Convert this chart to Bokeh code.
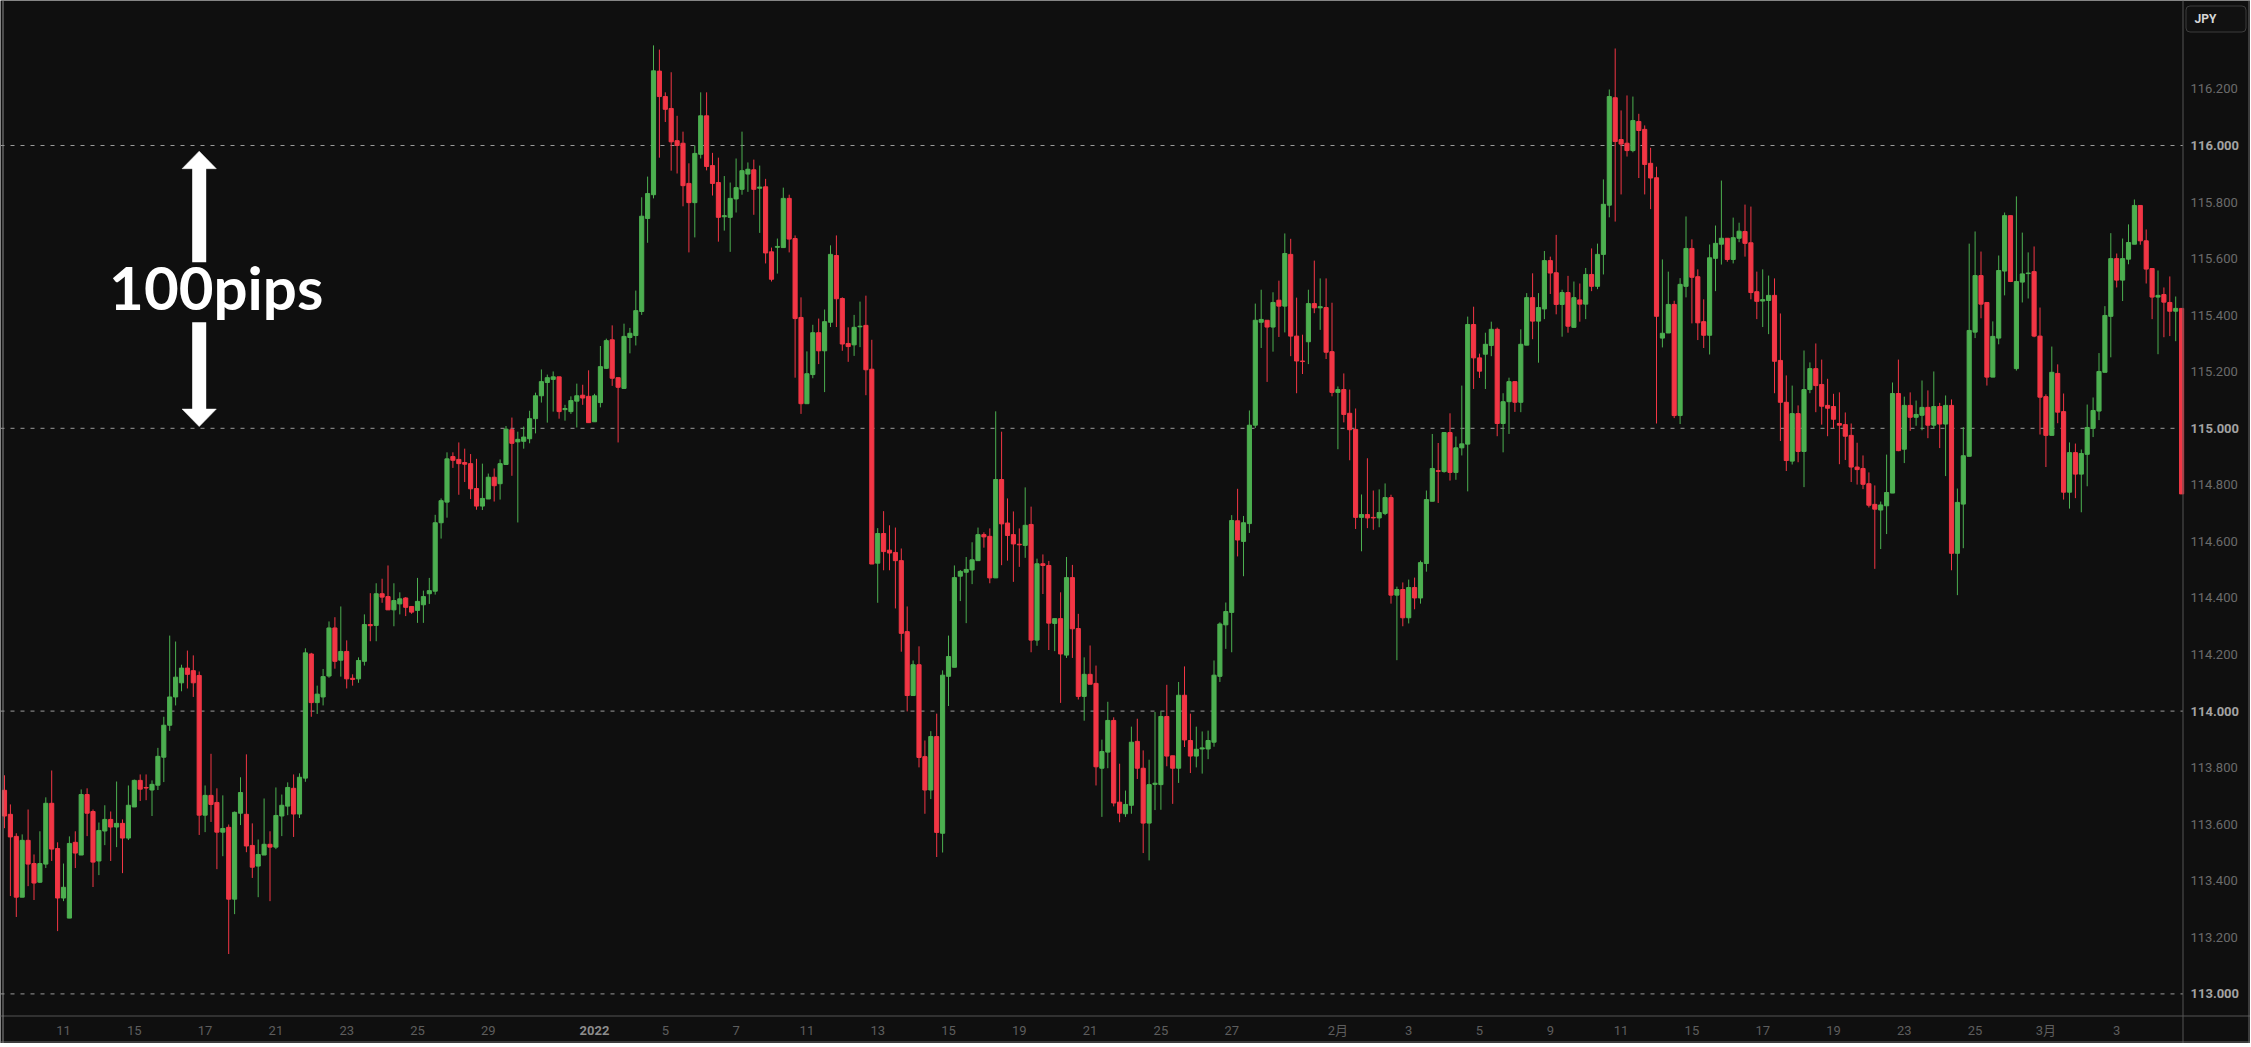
from bokeh.plotting import figure
from bokeh.models import Range1d, Label, Span, ColumnDataSource
from bokeh.core.properties import value
from bokeh.embed import file_html
from bokeh.resources import INLINE

# ---------------- data (USD/JPY, 4H candles) ----------------
opens = [
    113.720, 113.635, 113.557, 113.342, 113.543, 113.461, 113.395, 113.459, 113.674, 113.514,
    113.339, 113.268, 113.536, 113.491, 113.705, 113.645, 113.470, 113.576, 113.617, 113.590,
    113.603, 113.551, 113.661, 113.755, 113.730, 113.721, 113.738, 113.837, 113.950, 114.050,
    114.100, 114.152, 114.143, 114.126, 113.632, 113.702, 113.677, 113.572, 113.589, 113.335,
    113.639, 113.635, 113.525, 113.452, 113.491, 113.529, 113.519, 113.629, 113.664, 113.727,
    113.636, 113.763, 114.202, 114.030, 114.050, 114.124, 114.294, 114.180, 114.211, 114.116,
    114.114, 114.176, 114.306, 114.303, 114.415, 114.405, 114.358, 114.379, 114.400, 114.370,
    114.356, 114.376, 114.415, 114.424, 114.666, 114.739, 114.900, 114.890, 114.879, 114.875,
    114.787, 114.725, 114.750, 114.827, 114.804, 114.872, 114.995, 114.952, 114.954, 114.963,
    115.034, 115.115, 115.162, 115.173, 115.182, 115.066, 115.059, 115.096, 115.117, 115.113,
    115.023, 115.091, 115.212, 115.313, 115.179, 115.141, 115.321, 115.328, 115.413, 115.742,
    115.826, 116.263, 116.173, 116.131, 116.017, 116.008, 115.866, 115.798, 115.969, 116.105,
    115.929, 115.869, 115.748, 115.746, 115.811, 115.845, 115.899, 115.914, 115.849, 115.854,
    115.624, 115.640, 115.639, 115.813, 115.671, 115.392, 115.087, 115.190, 115.338, 115.274,
    115.375, 115.611, 115.459, 115.300, 115.295, 115.359, 115.364, 115.209, 114.523, 114.628,
    114.569, 114.561, 114.532, 114.281, 114.055, 114.164, 113.839, 113.721, 113.910, 113.568,
    114.123, 114.155, 114.477, 114.491, 114.499, 114.532, 114.624, 114.618, 114.471, 114.819,
    114.665, 114.624, 114.590, 114.586, 114.660, 114.251, 114.521, 114.515, 114.310, 114.327,
    114.198, 114.472, 114.292, 114.052, 114.130, 114.098, 113.798, 113.855, 113.967, 113.678,
    113.637, 113.667, 113.893, 113.798, 113.604, 113.741, 113.740, 113.981, 113.842, 113.798,
    114.056, 113.896, 113.841, 113.866, 113.866, 113.890, 114.123, 114.305, 114.349, 114.673,
    114.600, 114.663, 115.011, 115.375, 115.382, 115.358, 115.453, 115.432, 115.615, 115.326,
    115.238, 115.306, 115.441, 115.426, 115.427, 115.271, 115.127, 115.137, 115.053, 114.996,
    114.685, 114.695, 114.685, 114.683, 114.699, 114.755, 114.410, 114.430, 114.330, 114.437,
    114.400, 114.522, 114.742, 114.850, 114.847, 114.985, 114.844, 114.931, 114.944, 115.367,
    115.249, 115.262, 115.293, 115.350, 115.017, 115.094, 115.165, 115.092, 115.294, 115.462,
    115.379, 115.422, 115.593, 115.550, 115.438, 115.480, 115.357, 115.454, 115.439, 115.544,
    115.502, 115.615, 115.789, 116.169, 116.021, 116.008, 115.982, 116.085, 116.057, 115.937,
    115.886, 115.319, 115.337, 115.438, 115.045, 115.502, 115.636, 115.536, 115.377, 115.329,
    115.601, 115.651, 115.672, 115.597, 115.672, 115.696, 115.656, 115.483, 115.450, 115.452,
    115.470, 115.240, 115.092, 114.884, 115.052, 114.918, 115.137, 115.211, 115.155, 115.081,
    115.077, 115.017, 115.013, 114.975, 114.863, 114.858, 114.804, 114.731, 114.711, 114.726,
    114.771, 115.123, 114.926, 115.081, 115.039, 115.046, 115.074, 115.011, 115.077, 115.015,
    115.081, 114.558, 114.732, 114.901, 115.340, 115.540, 115.445, 115.181, 115.319, 115.556,
    115.752, 115.211, 115.517, 115.547, 115.554, 115.326, 115.112, 114.975, 115.194, 115.059,
    114.774, 114.914, 114.838, 114.908, 115.000, 115.061, 115.198, 115.396, 115.600, 115.524,
    115.598, 115.651, 115.788, 115.663, 115.565, 115.464, 115.473, 115.445, 115.414, 115.424,
]
highs = [
    113.773, 113.670, 113.568, 113.564, 113.652, 113.493, 113.575, 113.695, 113.790, 113.536,
    113.461, 113.557, 113.575, 113.723, 113.727, 113.652, 113.606, 113.667, 113.645, 113.751,
    113.617, 113.737, 113.758, 113.776, 113.776, 113.755, 113.870, 113.980, 114.267, 114.246,
    114.164, 114.214, 114.197, 114.140, 113.737, 113.849, 113.727, 113.702, 113.599, 113.645,
    113.766, 113.847, 113.603, 113.546, 113.691, 113.575, 113.730, 113.705, 113.748, 113.776,
    113.780, 114.222, 114.206, 114.090, 114.149, 114.317, 114.332, 114.370, 114.250, 114.130,
    114.190, 114.342, 114.417, 114.452, 114.468, 114.515, 114.452, 114.420, 114.403, 114.371,
    114.471, 114.426, 114.471, 114.694, 114.752, 114.915, 114.915, 114.950, 114.928, 114.909,
    114.892, 114.875, 114.840, 114.858, 114.890, 115.008, 115.038, 114.988, 115.006, 115.062,
    115.126, 115.208, 115.190, 115.201, 115.182, 115.083, 115.113, 115.158, 115.154, 115.205,
    115.122, 115.291, 115.317, 115.364, 115.179, 115.370, 115.355, 115.487, 115.817, 115.890,
    116.354, 116.339, 116.188, 116.259, 116.105, 116.049, 115.937, 116.000, 116.188, 116.188,
    115.974, 115.957, 115.892, 115.869, 115.954, 116.049, 115.940, 115.950, 115.929, 115.882,
    115.639, 115.671, 115.851, 115.826, 115.682, 115.463, 115.272, 115.366, 115.388, 115.420,
    115.647, 115.682, 115.463, 115.357, 115.401, 115.448, 115.469, 115.313, 114.647, 114.707,
    114.657, 114.649, 114.575, 114.370, 114.179, 114.229, 113.896, 113.929, 113.991, 114.144,
    114.267, 114.515, 114.499, 114.545, 114.597, 114.649, 114.632, 114.646, 115.060, 114.988,
    114.752, 114.706, 114.646, 114.791, 114.723, 114.539, 114.554, 114.531, 114.327, 114.420,
    114.545, 114.517, 114.344, 114.190, 114.232, 114.161, 113.899, 114.033, 113.978, 113.814,
    113.719, 113.945, 113.973, 113.861, 113.828, 113.997, 113.999, 114.093, 113.842, 114.103,
    114.158, 113.991, 113.945, 113.928, 113.931, 114.179, 114.314, 114.384, 114.693, 114.786,
    114.690, 115.063, 115.441, 115.490, 115.382, 115.481, 115.522, 115.689, 115.670, 115.462,
    115.331, 115.490, 115.593, 115.530, 115.530, 115.444, 115.148, 115.194, 115.137, 115.070,
    114.766, 114.894, 114.780, 114.784, 114.805, 114.765, 114.440, 114.455, 114.465, 114.472,
    114.532, 114.780, 114.980, 114.948, 114.986, 115.053, 114.971, 115.151, 115.395, 115.430,
    115.264, 115.338, 115.377, 115.356, 115.124, 115.179, 115.165, 115.350, 115.478, 115.548,
    115.478, 115.627, 115.607, 115.684, 115.490, 115.539, 115.519, 115.512, 115.567, 115.636,
    115.653, 115.880, 116.198, 116.343, 116.124, 116.177, 116.173, 116.112, 116.071, 115.992,
    115.925, 115.597, 115.554, 115.451, 115.531, 115.749, 115.668, 115.562, 115.456, 115.650,
    115.717, 115.876, 115.672, 115.745, 115.727, 115.791, 115.784, 115.554, 115.562, 115.540,
    115.530, 115.406, 115.187, 115.151, 115.081, 115.275, 115.233, 115.300, 115.243, 115.175,
    115.122, 115.127, 115.056, 115.017, 114.949, 114.904, 114.844, 114.798, 114.741, 114.907,
    115.162, 115.243, 115.112, 115.127, 115.098, 115.169, 115.134, 115.201, 115.090, 115.116,
    115.102, 114.787, 115.004, 115.653, 115.696, 115.625, 115.445, 115.378, 115.611, 115.763,
    115.752, 115.820, 115.692, 115.622, 115.643, 115.427, 115.120, 115.289, 115.226, 115.123,
    114.950, 114.946, 114.925, 115.084, 115.109, 115.266, 115.432, 115.690, 115.618, 115.671,
    115.721, 115.809, 115.788, 115.703, 115.565, 115.558, 115.498, 115.537, 115.466, 115.424,
]
lows = [
    113.586, 113.346, 113.272, 113.342, 113.381, 113.332, 113.392, 113.445, 113.470, 113.222,
    113.328, 113.268, 113.445, 113.491, 113.558, 113.378, 113.420, 113.526, 113.470, 113.519,
    113.427, 113.544, 113.661, 113.682, 113.685, 113.629, 113.721, 113.749, 113.930, 114.020,
    114.070, 114.080, 114.050, 113.562, 113.572, 113.608, 113.441, 113.487, 113.141, 113.282,
    113.597, 113.501, 113.410, 113.342, 113.491, 113.328, 113.512, 113.558, 113.632, 113.555,
    113.622, 113.750, 113.980, 113.990, 114.020, 114.118, 114.150, 114.122, 114.080, 114.090,
    114.100, 114.161, 114.247, 114.247, 114.383, 114.358, 114.300, 114.342, 114.336, 114.344,
    114.312, 114.312, 114.379, 114.412, 114.610, 114.684, 114.860, 114.765, 114.810, 114.750,
    114.712, 114.711, 114.750, 114.741, 114.748, 114.872, 114.832, 114.667, 114.928, 114.947,
    114.982, 115.091, 115.020, 115.059, 115.034, 115.027, 115.051, 115.003, 115.083, 115.020,
    115.023, 115.074, 115.210, 115.150, 114.950, 115.139, 115.265, 115.293, 115.401, 115.656,
    115.813, 115.957, 116.083, 115.911, 115.901, 115.785, 115.622, 115.675, 115.954, 115.912,
    115.823, 115.660, 115.699, 115.624, 115.763, 115.826, 115.836, 115.755, 115.691, 115.583,
    115.519, 115.547, 115.639, 115.622, 115.179, 115.051, 115.087, 115.177, 115.227, 115.128,
    115.358, 115.358, 115.274, 115.235, 115.256, 115.287, 115.117, 114.520, 114.383, 114.498,
    114.498, 114.363, 114.210, 113.999, 114.055, 113.801, 113.637, 113.689, 113.484, 113.500,
    114.018, 114.155, 114.389, 114.311, 114.449, 114.532, 114.578, 114.452, 114.471, 114.516,
    114.532, 114.457, 114.510, 114.542, 114.208, 114.231, 114.414, 114.216, 114.212, 114.029,
    114.188, 114.188, 114.041, 113.966, 114.095, 113.737, 113.626, 113.798, 113.663, 113.607,
    113.626, 113.637, 113.760, 113.498, 113.472, 113.650, 113.651, 113.805, 113.672, 113.746,
    113.873, 113.781, 113.801, 113.779, 113.830, 113.874, 114.103, 114.220, 114.208, 114.547,
    114.477, 114.630, 115.001, 115.284, 115.164, 115.271, 115.323, 115.339, 115.255, 115.124,
    115.192, 115.227, 115.407, 115.348, 115.245, 115.113, 114.926, 115.021, 114.887, 114.644,
    114.565, 114.647, 114.641, 114.650, 114.693, 114.380, 114.180, 114.300, 114.310, 114.360,
    114.380, 114.493, 114.742, 114.736, 114.843, 114.815, 114.818, 114.904, 114.777, 115.139,
    115.178, 115.139, 115.255, 114.972, 114.915, 114.980, 115.058, 115.057, 115.294, 115.315,
    115.232, 115.386, 115.475, 115.403, 115.324, 115.338, 115.357, 115.377, 115.386, 115.485,
    115.492, 115.544, 115.746, 115.731, 115.827, 115.961, 115.976, 115.885, 115.827, 115.775,
    115.017, 115.286, 115.337, 115.036, 115.015, 115.463, 115.371, 115.312, 115.284, 115.261,
    115.485, 115.579, 115.589, 115.583, 115.658, 115.607, 115.456, 115.386, 115.358, 115.333,
    115.124, 114.955, 114.849, 114.872, 114.880, 114.792, 115.124, 115.057, 115.013, 114.972,
    115.000, 114.873, 114.888, 114.810, 114.801, 114.785, 114.720, 114.503, 114.573, 114.626,
    114.771, 114.919, 114.877, 114.991, 115.009, 114.993, 114.965, 115.000, 114.930, 114.831,
    114.498, 114.410, 114.576, 114.901, 115.319, 115.389, 115.151, 115.181, 115.297, 115.470,
    115.517, 115.204, 115.445, 115.459, 115.322, 114.978, 114.863, 114.975, 115.018, 114.748,
    114.716, 114.753, 114.703, 114.795, 114.969, 115.029, 115.198, 115.251, 115.498, 115.450,
    115.580, 115.651, 115.649, 115.512, 115.386, 115.262, 115.322, 115.326, 115.308, 114.768,
]
closes = [
    113.629, 113.555, 113.342, 113.543, 113.459, 113.392, 113.461, 113.674, 113.512, 113.339,
    113.377, 113.532, 113.498, 113.705, 113.639, 113.466, 113.578, 113.617, 113.590, 113.603,
    113.551, 113.667, 113.755, 113.724, 113.728, 113.741, 113.840, 113.950, 114.050, 114.120,
    114.152, 114.130, 114.100, 113.632, 113.702, 113.670, 113.572, 113.585, 113.335, 113.642,
    113.712, 113.523, 113.448, 113.493, 113.529, 113.519, 113.631, 113.667, 113.730, 113.636,
    113.766, 114.206, 114.030, 114.060, 114.122, 114.294, 114.176, 114.211, 114.114, 114.112,
    114.179, 114.306, 114.302, 114.415, 114.403, 114.358, 114.391, 114.397, 114.367, 114.350,
    114.388, 114.405, 114.426, 114.666, 114.744, 114.892, 114.887, 114.875, 114.873, 114.786,
    114.725, 114.752, 114.827, 114.797, 114.875, 114.997, 114.947, 114.961, 114.969, 115.034,
    115.115, 115.165, 115.179, 115.182, 115.059, 115.070, 115.098, 115.115, 115.107, 115.020,
    115.115, 115.218, 115.310, 115.177, 115.145, 115.325, 115.336, 115.416, 115.750, 115.830,
    116.264, 116.173, 116.128, 116.013, 116.000, 115.858, 115.798, 115.972, 116.105, 115.926,
    115.866, 115.746, 115.752, 115.813, 115.851, 115.911, 115.916, 115.845, 115.853, 115.620,
    115.527, 115.643, 115.813, 115.669, 115.388, 115.087, 115.193, 115.338, 115.274, 115.377,
    115.615, 115.458, 115.298, 115.289, 115.357, 115.361, 115.207, 114.520, 114.628, 114.564,
    114.559, 114.532, 114.275, 114.055, 114.164, 113.836, 113.721, 113.910, 113.571, 114.127,
    114.193, 114.472, 114.494, 114.501, 114.535, 114.624, 114.616, 114.471, 114.819, 114.662,
    114.621, 114.591, 114.588, 114.657, 114.251, 114.521, 114.515, 114.311, 114.327, 114.202,
    114.472, 114.291, 114.052, 114.130, 114.095, 113.803, 113.857, 113.967, 113.675, 113.639,
    113.670, 113.890, 113.798, 113.604, 113.740, 113.745, 113.981, 113.841, 113.798, 114.056,
    113.898, 113.841, 113.865, 113.870, 113.896, 114.127, 114.308, 114.352, 114.674, 114.605,
    114.666, 115.011, 115.382, 115.385, 115.358, 115.445, 115.432, 115.618, 115.326, 115.238,
    115.236, 115.441, 115.426, 115.430, 115.269, 115.127, 115.137, 115.049, 114.995, 114.685,
    114.695, 114.683, 114.683, 114.702, 114.755, 114.410, 114.430, 114.330, 114.437, 114.400,
    114.525, 114.748, 114.858, 114.848, 114.985, 114.844, 114.931, 114.945, 115.367, 115.249,
    115.202, 115.297, 115.350, 115.017, 115.094, 115.165, 115.092, 115.297, 115.462, 115.379,
    115.427, 115.593, 115.549, 115.438, 115.480, 115.361, 115.462, 115.439, 115.544, 115.502,
    115.615, 115.792, 116.173, 116.014, 116.005, 115.982, 116.088, 116.053, 115.933, 115.885,
    115.396, 115.336, 115.438, 115.045, 115.509, 115.636, 115.534, 115.373, 115.329, 115.603,
    115.654, 115.672, 115.597, 115.674, 115.697, 115.654, 115.480, 115.449, 115.455, 115.470,
    115.237, 115.092, 114.886, 115.052, 114.918, 115.137, 115.211, 115.151, 115.078, 115.071,
    115.032, 115.011, 114.972, 114.863, 114.854, 114.802, 114.728, 114.714, 114.729, 114.773,
    115.123, 114.921, 115.081, 115.039, 115.049, 115.074, 115.011, 115.077, 115.015, 115.081,
    114.558, 114.738, 114.903, 115.346, 115.540, 115.439, 115.181, 115.325, 115.558, 115.752,
    115.519, 115.519, 115.546, 115.549, 115.326, 115.110, 114.975, 115.198, 115.057, 114.774,
    114.914, 114.838, 114.911, 115.003, 115.063, 115.201, 115.399, 115.600, 115.524, 115.600,
    115.657, 115.788, 115.663, 115.563, 115.464, 115.470, 115.446, 115.414, 115.424, 114.768,
]

# date tick labels (bar index -> label)
date_tick_idx = [10, 22, 34, 46, 58, 70, 82, 100, 112, 124, 136, 148, 160, 172, 184,
                 196, 208, 226, 238, 250, 262, 274, 286, 298, 310, 322, 334, 346, 358]
date_tick_labels = ["11", "15", "17", "21", "23", "25", "29", "2022", "5", "7", "11", "13",
                    "15", "19", "21", "25", "27", "2月", "3", "5", "9", "11", "15", "17",
                    "19", "23", "25", "3月", "3"]
bold_date_labels = ["2022"]

price_ticks = [113.0, 113.2, 113.4, 113.6, 113.8, 114.0, 114.2, 114.4, 114.6, 114.8,
               115.0, 115.2, 115.4, 115.6, 115.8, 116.0, 116.2]
major_levels = [113.0, 114.0, 115.0, 116.0]
currency = "JPY"

# annotation: 100 pips between 115.000 and 116.000
pips_label = "100pips"
pips_hi, pips_lo = 116.0, 115.0
arrow_bar = 33

# ---------------- layout (pixel geometry of the chart pane) ----------------
W, H = 2250, 1043            # whole chart (candles + price column + date row)
BAR_PX, FIRST_BAR_PX = 5.9, 4.0
PX_PER_YEN, Y116_PX = 282.8, 145.0
X0 = -FIRST_BAR_PX / BAR_PX
X1 = X0 + W / BAR_PX
YTOP = 116.0 + Y116_PX / PX_PER_YEN
YBOT = YTOP - H / PX_PER_YEN


def px_x(px):
    return X0 + px / BAR_PX


def px_y(py):
    return YTOP - py / PX_PER_YEN


SEP_X = px_x(2182.5)      # price-scale separator
SEP_Y = px_y(1015.5)      # time-scale separator

BG = "#0f0f0f"
UP = "#4caf50"
DOWN = "#f23645"
FONT = "Roboto, Noto Sans CJK JP"

n = len(closes)
src = ColumnDataSource(dict(
    x=list(range(n)), h=highs, l=lows,
    top=[max(o, c) for o, c in zip(opens, closes)],
    bottom=[min(o, c) for o, c in zip(opens, closes)],
    color=[UP if c >= o else DOWN for o, c in zip(opens, closes)],
))

p = figure(frame_width=W, frame_height=H,
           x_range=Range1d(X0, X1), y_range=Range1d(YBOT, YTOP),
           output_backend="svg", toolbar_location=None,
           x_axis_location=None, y_axis_location=None,
           min_border=0, min_border_left=0, min_border_right=0,
           min_border_top=0, min_border_bottom=0,
           background_fill_color=BG, border_fill_color=BG, outline_line_color=None)
for g in p.grid:
    g.visible = False

# dashed whole-yen levels (stop at the price scale)
p.segment(x0=[X0] * len(major_levels), x1=[SEP_X] * len(major_levels),
          y0=major_levels, y1=major_levels,
          line_color="#9a9a9a", line_width=1, line_dash="4 6")

# candles
p.segment(x0="x", y0="h", x1="x", y1="l", line_color="color", line_width=1, source=src)
p.vbar(x="x", width=0.7, top="top", bottom="bottom", fill_color="color",
       line_color="color", line_width=1, source=src)

# pane separators / borders
p.add_layout(Span(location=SEP_X, dimension="height", line_color="#555555", line_width=1))
p.add_layout(Span(location=SEP_Y, dimension="width", line_color="#555555", line_width=1))
p.add_layout(Span(location=px_x(2.5), dimension="height", line_color="#8a8a8a", line_width=1))
p.add_layout(Span(location=px_x(W - 1.5), dimension="height", line_color="#6a6a6a", line_width=1))
p.add_layout(Span(location=px_y(H - 1.5), dimension="width", line_color="#6a6a6a", line_width=1))

# price scale labels
lab_x = px_x(2190)
minor_p = [v for v in price_ticks if v not in major_levels]
p.text(x=[lab_x] * len(minor_p), y=minor_p, text=[f"{v:.3f}" for v in minor_p],
       text_font=value(FONT), text_font_size="13px", text_color="#6b6b6b",
       text_align="left", text_baseline="middle")
p.text(x=[lab_x] * len(major_levels), y=major_levels, text=[f"{v:.3f}" for v in major_levels],
       text_font=value(FONT), text_font_size="13px", text_color="#a3a3a3",
       text_font_style="bold", text_align="left", text_baseline="middle")

# time scale labels
date_y = px_y(1030)
norm = [(i, s) for i, s in zip(date_tick_idx, date_tick_labels) if s not in bold_date_labels]
bold = [(i, s) for i, s in zip(date_tick_idx, date_tick_labels) if s in bold_date_labels]
p.text(x=[i for i, _ in norm], y=[date_y] * len(norm), text=[s for _, s in norm],
       text_font=value(FONT), text_font_size="13px", text_color="#5e5e5e",
       text_align="center", text_baseline="middle")
p.text(x=[i for i, _ in bold], y=[date_y] * len(bold), text=[s for _, s in bold],
       text_font=value(FONT), text_font_size="13px", text_color="#8c8c8c",
       text_font_style="bold", text_align="center", text_baseline="middle")

# currency box (top of the price scale)
p.quad(left=[px_x(2185.5)], right=[px_x(2245.5)], top=[px_y(5.5)], bottom=[px_y(31.5)],
       fill_color="#111111", line_color="#3c3c3c", line_width=1, border_radius=4)
p.text(x=[px_x(2194)], y=[px_y(18.5)], text=[currency],
       text_font=value(FONT), text_font_size="12px", text_color="#d6d6d6",
       text_font_style="bold", text_align="left", text_baseline="middle")

# 100pips annotation
mid = (pips_hi + pips_lo) / 2
head_len = 0.062
head_half = 2.9
tip_hi = pips_hi - 0.02
tip_lo = pips_lo + 0.006
p.segment(x0=[arrow_bar, arrow_bar], x1=[arrow_bar, arrow_bar],
          y0=[tip_hi - head_len + 0.002, mid - 0.125],
          y1=[mid + 0.087, tip_lo + head_len - 0.002],
          line_color="white", line_width=14, line_cap="butt")
p.patches(xs=[[arrow_bar - head_half, arrow_bar, arrow_bar + head_half],
              [arrow_bar - head_half, arrow_bar, arrow_bar + head_half]],
          ys=[[tip_hi - head_len, tip_hi, tip_hi - head_len],
              [tip_lo + head_len, tip_lo, tip_lo + head_len]],
          fill_color="white", line_color="white", line_width=0.5)
p.add_layout(Label(x=arrow_bar, y=mid, x_offset=17, text=pips_label,
                   text_align="center", text_baseline="middle",
                   text_font="Lato", text_font_size="60px", text_font_style="bold",
                   text_color="white"))

open("out.html", "w").write(file_html(p, INLINE, title="USDJPY 4H"))
